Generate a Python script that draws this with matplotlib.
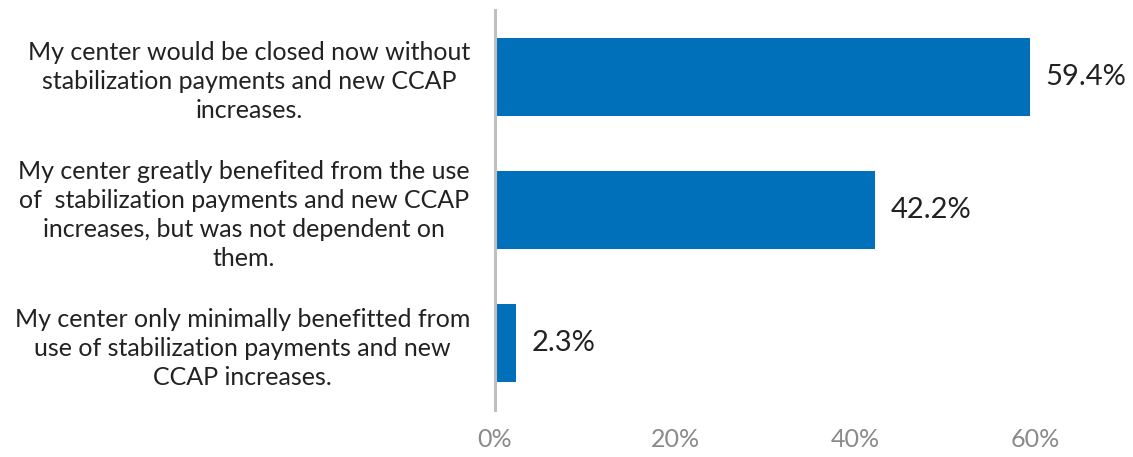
import matplotlib
matplotlib.use('Agg')
import matplotlib.pyplot as plt

plt.rcParams['font.family'] = ['Lato', 'DejaVu Sans']

# Survey responses (top to bottom)
categories = [
    'My center would be closed now without\nstabilization payments and new CCAP\nincreases.',
    'My center greatly benefited from the use\nof  stabilization payments and new CCAP\nincreases, but was not dependent on\nthem.',
    'My center only minimally benefitted from\nuse of stabilization payments and new\nCCAP increases.',
]
shares = [59.4, 42.2, 2.3]
x_ticks = [0, 20, 40, 60]

fig = plt.figure(figsize=(11.33, 4.57), dpi=100)
ax = fig.add_axes([495 / 1133, 1 - 410 / 457, 630 / 1133, 400 / 457])

pos = list(range(len(categories)))
bars = ax.barh(pos, shares, height=0.585, color='#0070BA')

# value labels just past the end of each bar
for bar, v in zip(bars, shares):
    ax.annotate(f'{v}%', xy=(bar.get_width(), bar.get_y() + bar.get_height() / 2),
                xytext=(16, 0), textcoords='offset pixels',
                ha='left', va='center', fontsize=21, color='#222222')

ax.set_xlim(0, 70)
ax.set_ylim(2.5, -0.5)
ax.set_yticks(pos)
ax.set_yticklabels(categories, fontsize=18, color='#222222',
                   multialignment='center', linespacing=1.32)
ax.set_xticks(x_ticks)
ax.set_xticklabels([f'{t}%' for t in x_ticks], fontsize=18, color='#8a8a8a')
ax.tick_params(axis='y', length=0, pad=18)
ax.tick_params(axis='x', length=0, pad=13)

for side in ['top', 'right', 'bottom']:
    ax.spines[side].set_visible(False)
ax.spines['left'].set_color('#bfbfbf')
ax.spines['left'].set_linewidth(2.2)

fig.savefig('out.png', dpi=100)
